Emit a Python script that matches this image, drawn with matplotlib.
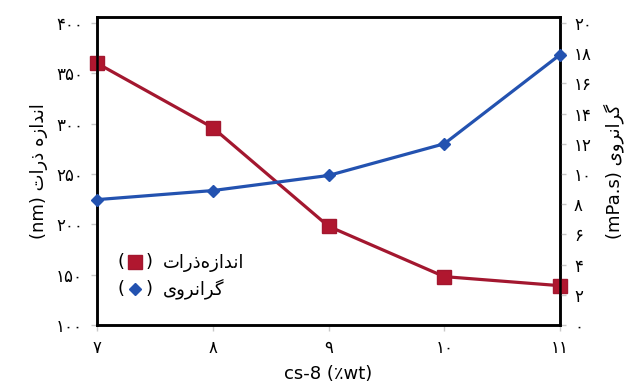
import matplotlib
matplotlib.use("Agg")
import matplotlib.pyplot as plt
from matplotlib.lines import Line2D
from matplotlib.text import Text
from matplotlib.legend_handler import HandlerBase
from matplotlib.ticker import FixedLocator, FuncFormatter

# ---- data ----
cs8 = [7, 8, 9, 10, 11]
particle_size = [360, 296, 198, 148, 139]      # nm (left axis)
viscosity = [8.3, 8.9, 9.9, 12.0, 17.9]        # mPa.s (right axis)
left_ticks = [100, 150, 200, 250, 300, 350, 400]
right_ticks = [0, 2, 4, 6, 8, 10, 12, 14, 16, 18, 20]

# Persian text in visual (shaped, left-to-right) order
size_fa = "\uFE95\uFE8D\uFEAD\uFEAB \uFEE9\uFEAF\uFE8D\uFEAA\uFEE7\uFE8D"      # اندازه ذرات
size_fa_leg = "\uFE95\uFE8D\uFEAD\uFEAB\uFEE9\uFEAF\uFE8D\uFEAA\uFEE7\uFE8D"   # اندازه‌ذرات
visc_fa = "\uFBFC\uFEED\uFEAE\uFEE7\uFE8D\uFEAE\uFB94"                         # گرانروی
xlabel = "cs-8 (\u066Awt)"

FA_DIGITS = str.maketrans("0123456789", "۰۱۲۳۴۵۶۷۸۹")


def fa(v, pos=None):
    return str(int(round(v))).translate(FA_DIGITS)


plt.rcParams['font.family'] = ['DejaVu Sans']

RED = "#a3172f"
BLUE = "#2352b0"

fig = plt.figure(figsize=(6.3, 3.85), dpi=100)
ax = fig.add_axes([0.154, 0.156, 0.735, 0.80])
ax2 = ax.twinx()

l1, = ax.plot(cs8, particle_size, color=RED, lw=2.3, marker="s", ms=10,
              mfc="#b0172f", mec=RED, zorder=3, clip_on=False)
l2, = ax2.plot(cs8, viscosity, color=BLUE, lw=2.3, marker="D", ms=6,
               mfc=BLUE, mec=BLUE, zorder=3, clip_on=False)

ax.set_xlim(7, 11)
ax.set_ylim(100, 406)
ax2.set_ylim(0, 20.4)

ax.xaxis.set_major_locator(FixedLocator(cs8))
ax.xaxis.set_major_formatter(FuncFormatter(fa))
ax.yaxis.set_major_locator(FixedLocator(left_ticks))
ax.yaxis.set_major_formatter(FuncFormatter(fa))
ax2.yaxis.set_major_locator(FixedLocator(right_ticks))
ax2.yaxis.set_major_formatter(FuncFormatter(fa))

for a in (ax, ax2):
    for s in a.spines.values():
        s.set_linewidth(1.8)
        s.set_color("black")
    a.tick_params(axis="both", colors="#c8c8c8", length=4, width=1,
                  labelcolor="black", labelsize=12, pad=6)

ax.set_xlabel(xlabel, fontsize=13, labelpad=6)
ax.set_ylabel("(nm) " + size_fa, fontsize=13, labelpad=6)
ax2.set_ylabel("(mPa.s) " + visc_fa, fontsize=13, labelpad=8, rotation=90)


class ParenHandler(HandlerBase):
    def create_artists(self, legend, orig_handle, xdescent, ydescent,
                       width, height, fontsize, trans):
        cy = height / 2 - ydescent
        t1 = Text(-xdescent, cy, "(", fontsize=fontsize, va="center",
                  ha="left", transform=trans)
        t2 = Text(width - xdescent, cy, ")", fontsize=fontsize, va="center",
                  ha="right", transform=trans)
        m = Line2D([width / 2 - xdescent], [cy], linestyle="none",
                   marker=orig_handle.get_marker(),
                   markersize=orig_handle.get_markersize() * 0.95,
                   markerfacecolor=orig_handle.get_markerfacecolor(),
                   markeredgecolor=orig_handle.get_markeredgecolor(),
                   transform=trans)
        return [t1, m, t2]


leg = ax.legend([l1, l2], [size_fa_leg, visc_fa],
                handler_map={Line2D: ParenHandler()},
                loc="lower left", bbox_to_anchor=(0.01, 0.03),
                frameon=False, fontsize=13, handlelength=1.9,
                handletextpad=0.6, labelspacing=0.35)

fig.savefig("out.png", dpi=100)
